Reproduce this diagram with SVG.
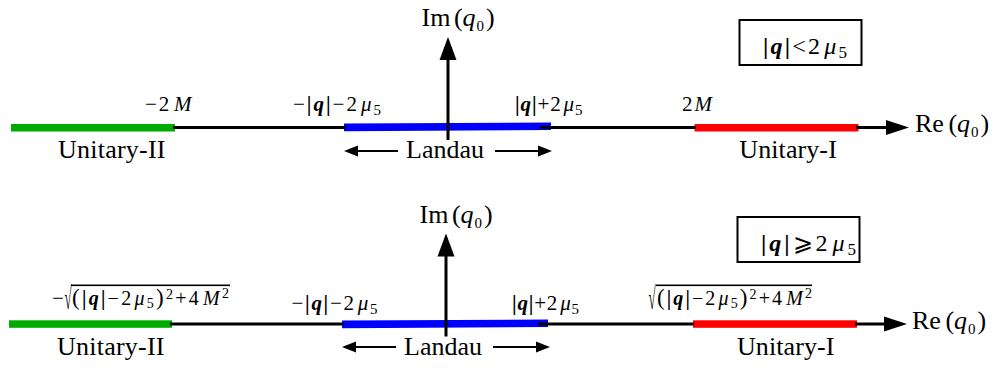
<svg xmlns="http://www.w3.org/2000/svg" width="993" height="369" viewBox="0 0 993 369">
<style>
text{font-family:"Liberation Serif","DejaVu Serif",serif;fill:#000}
.big{font-size:26px}
.lbl{font-size:21px}
.sq{font-size:20px}
.par{font-size:23px}
.box-t{font-size:24px}
.it{font-style:italic}
.b{font-weight:bold}
.sm{font-size:15px}
.xs{font-size:14px}
.smb{font-size:17px}
.ax{stroke:#000;stroke-width:3;fill:none}
.thin{stroke:#000;stroke-width:2;fill:none}
.green{fill:#00aa00}
.blue{fill:#0000ff}
.red{fill:#ff0000}
.box{fill:none;stroke:#000;stroke-width:2}
</style>
<g id="diagram-top">
  <g id="top-cuts">
    <rect id="top-unitary2-cut" class="green" x="11" y="124" width="164" height="7.5"/>
    <polygon id="top-landau-cut" class="blue" points="344,123.5 551,122.5 551,130 344,131.2"/>
    <rect id="top-unitary1-cut" class="red" x="694.5" y="124" width="164" height="7.5"/>
  </g>
  <g id="top-connectors">
    <line class="ax" x1="173" y1="127.5" x2="346" y2="127.5"/>
    <line class="ax" x1="540" y1="127.5" x2="696" y2="127.5"/>
    <line class="ax" x1="856" y1="127.5" x2="888" y2="127.5"/>
    <polygon points="886,120 909,127.5 886,135"/>
    <line class="ax" x1="448" y1="140" x2="448" y2="58"/>
    <polygon points="439.5,60 448,37 456.5,60"/>
    <line class="thin" x1="398" y1="151" x2="355" y2="151"/>
    <polygon points="344,151 358,145.5 358,156.5"/>
    <line class="thin" x1="495" y1="151" x2="540" y2="151"/>
    <polygon points="552,151 538,145.5 538,156.5"/>
  </g>
  <g id="top-im"><text class="big" x="421.5" y="26">Im<tspan x="454">(</tspan><tspan class="it" x="462.5">q</tspan><tspan class="sm" x="476.5" dy="5">0</tspan><tspan x="486" dy="-5">)</tspan></text></g>
  <g id="top-re"><text class="big" x="915" y="131.5">Re<tspan x="948.5">(</tspan><tspan class="it" x="957">q</tspan><tspan class="sm" x="971" dy="5">0</tspan><tspan x="980.5" dy="-5">)</tspan></text></g>
  <g id="top-box"><rect class="box" x="739.5" y="20" width="122" height="45"/>
    <text class="box-t" x="763" y="54" textLength="84"><tspan class="b">|<tspan class="it">q</tspan>|</tspan>&lt;2<tspan class="it" dx="2">μ</tspan><tspan class="smb" dy="4">5</tspan></text></g>
  <g id="top-lbl-m2M"><text class="lbl" x="145" y="111" textLength="46.5">−2<tspan class="it" dx="3">M</tspan></text></g>
  <g id="top-lbl-landau-l"><text class="lbl" x="293" y="111" textLength="88">−<tspan class="b">|<tspan class="it">q</tspan>|</tspan>−2<tspan class="it" dx="2">μ</tspan><tspan class="sm" dy="4">5</tspan></text></g>
  <g id="top-lbl-landau-r"><text class="lbl" x="515" y="111" textLength="67.5"><tspan class="b">|<tspan class="it">q</tspan>|</tspan>+2<tspan class="it" dx="2">μ</tspan><tspan class="sm" dy="4">5</tspan></text></g>
  <g id="top-lbl-2M"><text class="lbl" x="682" y="111" textLength="30">2<tspan class="it" dx="2">M</tspan></text></g>
  <g id="top-unitary2"><text class="big" x="58" y="158.3" textLength="107.5">Unitary-II</text></g>
  <g id="top-landau"><text class="big" x="406" y="158.3" textLength="78">Landau</text></g>
  <g id="top-unitary1"><text class="big" x="739.3" y="158.3" textLength="97.5">Unitary-I</text></g>
</g>
<g id="diagram-bottom">
  <g id="bot-cuts">
    <rect id="bot-unitary2-cut" class="green" x="9" y="320.3" width="163" height="7.5"/>
    <polygon id="bot-landau-cut" class="blue" points="342,320.5 548,319.5 548,327 342,328.2"/>
    <rect id="bot-unitary1-cut" class="red" x="693" y="320.3" width="164" height="7.5"/>
  </g>
  <g id="bot-connectors">
    <line class="ax" x1="170" y1="324" x2="344" y2="324"/>
    <line class="ax" x1="538" y1="324" x2="694" y2="324"/>
    <line class="ax" x1="855" y1="324" x2="886" y2="324"/>
    <polygon points="884,316.5 907,324 884,331.5"/>
    <line class="ax" x1="446" y1="336.5" x2="446" y2="254.5"/>
    <polygon points="437.5,256.5 446,233.5 454.5,256.5"/>
    <line class="thin" x1="396" y1="347" x2="353" y2="347"/>
    <polygon points="342,347 356,341.5 356,352.5"/>
    <line class="thin" x1="493" y1="347" x2="538" y2="347"/>
    <polygon points="550,347 536,341.5 536,352.5"/>
  </g>
  <g id="bot-im"><text class="big" x="419.5" y="223">Im<tspan x="452">(</tspan><tspan class="it" x="460.5">q</tspan><tspan class="sm" x="474.5" dy="5">0</tspan><tspan x="484" dy="-5">)</tspan></text></g>
  <g id="bot-re"><text class="big" x="912" y="329">Re<tspan x="945.5">(</tspan><tspan class="it" x="954">q</tspan><tspan class="sm" x="968" dy="5">0</tspan><tspan x="977.5" dy="-5">)</tspan></text></g>
  <g id="bot-box"><rect class="box" x="737.5" y="217" width="122" height="45"/>
    <text class="box-t" x="761" y="251" textLength="95"><tspan class="b">|<tspan class="it">q</tspan>|</tspan>⩾2<tspan class="it" dx="2">μ</tspan><tspan class="smb" dy="4">5</tspan></text></g>
  <g id="bot-lbl-left">
    <rect x="71" y="284.5" width="159" height="1.6" fill="#000"/>
    <text class="lbl" x="52" y="305">−</text>
    <text class="lbl" transform="translate(64.5,309) scale(0.62,1.5)">√</text>
    <text class="sq" x="72" y="305" textLength="157"><tspan class="par">(</tspan><tspan class="b">|<tspan class="it">q</tspan>|</tspan>−2<tspan class="it" dx="1">μ</tspan><tspan class="xs" dy="3">5</tspan><tspan class="par" dy="-3">)</tspan><tspan class="xs" dy="-6">2</tspan><tspan dy="6">+4</tspan><tspan class="it" dx="2">M</tspan><tspan class="xs" dy="-7">2</tspan></text>
  </g>
  <g id="bot-lbl-landau-l"><text class="lbl" x="291.5" y="309.5" textLength="86">−<tspan class="b">|<tspan class="it">q</tspan>|</tspan>−2<tspan class="it" dx="2">μ</tspan><tspan class="sm" dy="4">5</tspan></text></g>
  <g id="bot-lbl-landau-r"><text class="lbl" x="512" y="309.5" textLength="67"><tspan class="b">|<tspan class="it">q</tspan>|</tspan>+2<tspan class="it" dx="2">μ</tspan><tspan class="sm" dy="4">5</tspan></text></g>
  <g id="bot-lbl-right">
    <rect x="656" y="284.5" width="156" height="1.6" fill="#000"/>
    <text class="lbl" transform="translate(648.5,309) scale(0.62,1.5)">√</text>
    <text class="sq" x="657" y="305" textLength="155"><tspan class="par">(</tspan><tspan class="b">|<tspan class="it">q</tspan>|</tspan>−2<tspan class="it" dx="1">μ</tspan><tspan class="xs" dy="3">5</tspan><tspan class="par" dy="-3">)</tspan><tspan class="xs" dy="-6">2</tspan><tspan dy="6">+4</tspan><tspan class="it" dx="2">M</tspan><tspan class="xs" dy="-7">2</tspan></text>
  </g>
  <g id="bot-unitary2"><text class="big" x="57" y="355" textLength="107.5">Unitary-II</text></g>
  <g id="bot-landau"><text class="big" x="404" y="355" textLength="78">Landau</text></g>
  <g id="bot-unitary1"><text class="big" x="737" y="355" textLength="97.5">Unitary-I</text></g>
</g>
</svg>
